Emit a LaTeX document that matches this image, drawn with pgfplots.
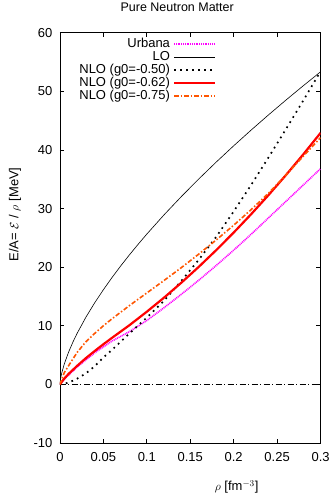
\documentclass[border=0pt]{standalone}
\usepackage{pgfplots}
\pgfplotsset{compat=1.18}
\usepackage{fontspec}
\setmainfont{Liberation Sans}
\definecolor{urb}{RGB}{255,0,255}
\definecolor{nlored}{RGB}{255,0,0}
\definecolor{nloorange}{RGB}{255,85,0}
\begin{document}
\begin{tikzpicture}[font=\fontsize{13}{15.6}\selectfont]
\begin{axis}[
  scale only axis,
  width=261pt, height=411pt,
  xmin=0, xmax=0.3, ymin=-10, ymax=60,
  xtick={0,0.05,0.1,0.15,0.2,0.25,0.3},
  ytick={-10,0,10,20,30,40,50,60},
  xticklabels={0,0.05,0.1,0.15,0.2,0.25,0.3},
  /pgf/number format/assume math mode=true,
  tick align=inside, tick pos=both,
  major tick length=4.5pt,
  minor tick num=0,
  axis line style={line width=0.8pt},
  every tick/.style={black, line width=0.8pt},
  xticklabel style={yshift=-6pt},
  yticklabel style={xshift=-4pt},
  title={Pure Neutron Matter},
  title style={at={(axis description cs:0.45,1.0462)}, anchor=center, font=\fontsize{12.5}{15}\selectfont},
  xlabel={$\rho$ [fm$^{-3}$]},
  xlabel style={at={(axis description cs:0.678,-0.107)}, anchor=center},
  ylabel={E/A= $\mathcal{E}$ / $\rho$ [MeV]},
  ylabel style={at={(axis description cs:-0.1724,0.557)}, anchor=center, rotate=0},
  legend plot pos=right,
  legend cell align=right,
  legend style={at={(axis description cs:0.60,0.988)}, anchor=north east, draw=none, fill=none,
    inner sep=0pt, row sep=0.5pt, column sep=3pt,
    nodes={inner sep=0pt, text height=9.5pt, text depth=3pt}},
  legend image code/.code={\draw[#1] (0pt,0pt) -- (41pt,0pt);},
]
\coordinate (bl) at (rel axis cs:0,0);
\coordinate (tr) at (rel axis cs:1,1);

\addplot[forget plot, black, line width=0.5pt, dash pattern=on 6pt off 2.5pt on 1pt off 2.5pt] coordinates {(0,0) (0.3,0)};

\addplot[urb, line width=1.6pt, dash pattern=on 1pt off 0.8pt] coordinates {
(0,0) (0.005,0.9) (0.01,1.6) (0.02,3.0) (0.03,4.2) (0.04,5.4) (0.05,6.4) (0.06,7.4)
(0.08,9.0) (0.10,10.9) (0.12,13.1) (0.14,15.4) (0.16,17.8) (0.18,20.3) (0.20,22.9)
(0.22,25.6) (0.24,28.4) (0.26,31.2) (0.28,34.0) (0.30,36.8)};
\addlegendentry{Urbana}

\addplot[black, line width=0.6pt] coordinates {
(0,0) (0.001,1.19) (0.002,1.89) (0.005,3.48) (0.01,5.52) (0.015,7.24) (0.02,8.77)
(0.03,11.49) (0.04,13.92) (0.05,16.15) (0.06,18.24) (0.07,20.22) (0.08,22.10)
(0.09,23.90) (0.10,25.64) (0.12,28.95) (0.14,32.08) (0.16,35.07) (0.18,37.94)
(0.20,40.70) (0.22,43.37) (0.24,45.96) (0.26,48.48) (0.28,50.93) (0.30,53.32)};
\addlegendentry{LO}

\addplot[black, line width=1.7pt, dash pattern=on 1.7pt off 4.3pt] coordinates {
(0,0) (0.01,0.3) (0.02,1.0) (0.03,1.9) (0.04,3.1) (0.05,4.6) (0.06,5.9) (0.08,8.7)
(0.10,11.4) (0.12,14.3) (0.14,17.7) (0.16,21.3) (0.18,25.2) (0.20,29.5) (0.22,34.0)
(0.24,38.7) (0.26,43.5) (0.28,48.4) (0.30,53.4)};
\addlegendentry{NLO (g0=-0.50)}

\addplot[nlored, line width=2.2pt] coordinates {
(0,0) (0.005,1.0) (0.01,1.8) (0.02,3.2) (0.03,4.5) (0.04,5.7) (0.05,6.85) (0.06,7.95)
(0.08,10.1) (0.10,12.4) (0.12,14.82) (0.14,17.38) (0.16,20.08) (0.18,22.92) (0.20,25.9)
(0.22,29.02) (0.24,32.28) (0.26,35.68) (0.28,39.22) (0.30,42.9)};
\addlegendentry{NLO (g0=-0.62)}

\addplot[nloorange, line width=1.6pt, dash pattern=on 4.5pt off 2pt on 1.5pt off 2pt] coordinates {
(0,0) (0.005,2.0) (0.01,3.2) (0.02,5.5) (0.03,7.3) (0.04,8.7) (0.05,10.0) (0.06,11.2)
(0.08,13.45) (0.10,15.6) (0.12,17.75) (0.14,19.95) (0.16,22.25) (0.18,24.65) (0.20,27.15)
(0.22,29.8) (0.24,32.6) (0.26,35.7) (0.28,38.9) (0.30,42.1)};
\addlegendentry{NLO (g0=-0.75)}
\end{axis}
\path ([shift={(-60pt,-56pt)}]bl) rectangle ([shift={(12pt,32pt)}]tr);
\end{tikzpicture}
\end{document}
